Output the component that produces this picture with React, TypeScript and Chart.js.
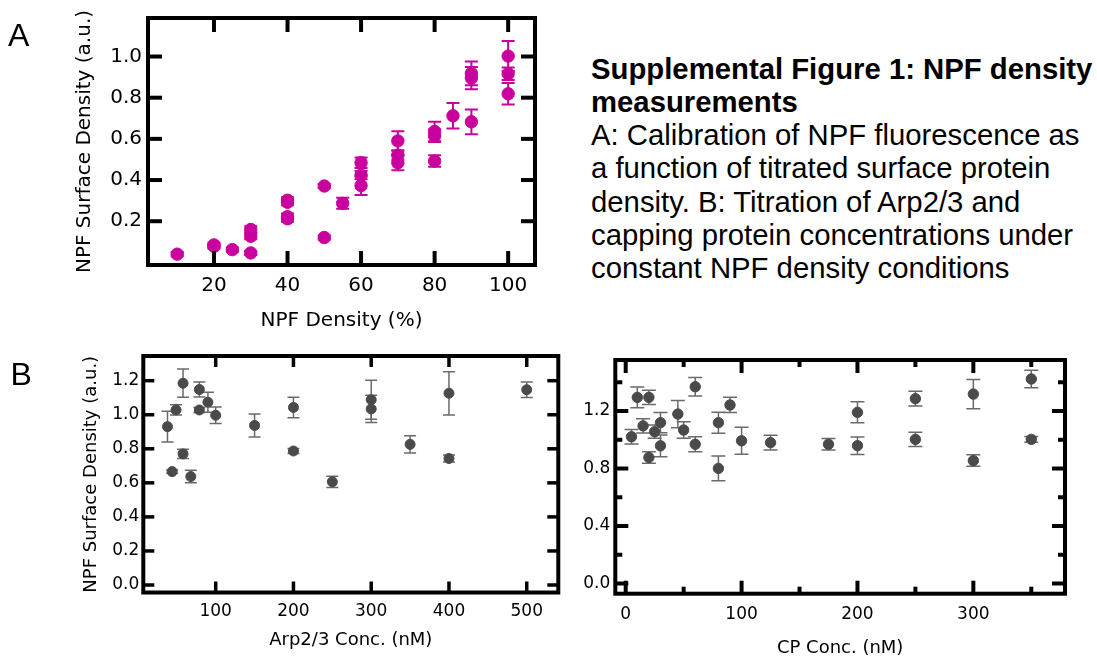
import React, { useEffect, useRef } from "react";
import { Chart, registerables } from "chart.js";

Chart.register(...registerables);

// ---------- Panel A: NPF calibration ----------
const A_X = [10, 20, 20, 25, 30, 30, 30, 40, 40, 40, 40, 50, 50, 55, 60, 60, 60, 70, 70, 70, 80, 80, 80, 85, 90, 90, 90, 100, 100, 100];
const A_Y = [0.040, 0.078, 0.085, 0.062, 0.160, 0.127, 0.046, 0.302, 0.292, 0.222, 0.212, 0.371, 0.121, 0.287, 0.484, 0.424, 0.373, 0.590, 0.521, 0.484, 0.636, 0.615, 0.492, 0.712, 0.918, 0.895, 0.683, 1.002, 0.916, 0.819];
const A_ERR = [0.01, 0.01, 0.01, 0.01, 0.015, 0.015, 0.01, 0.015, 0.015, 0.015, 0.015, 0.01, 0.01, 0.027, 0.026, 0.02, 0.046, 0.047, 0.022, 0.037, 0.047, 0.03, 0.028, 0.062, 0.058, 0.054, 0.06, 0.073, 0.03, 0.052];
const A_X_TICKS = [20, 40, 60, 80, 100];
const A_Y_TICKS = [0.2, 0.4, 0.6, 0.8, 1.0];

// ---------- Panel B left: Arp2/3 titration ----------
const ARP_X = [38, 44, 49, 58, 58, 68, 79, 79, 90, 100, 150, 200, 200, 250, 300, 300, 350, 400, 400, 500];
const ARP_Y = [0.930, 0.666, 1.028, 1.185, 0.770, 0.637, 1.148, 1.028, 1.073, 0.997, 0.937, 1.043, 0.787, 0.606, 1.088, 1.034, 0.826, 1.126, 0.743, 1.147];
const ARP_ERR = [0.09, 0.01, 0.03, 0.083, 0.027, 0.037, 0.044, 0.015, 0.059, 0.049, 0.068, 0.06, 0.015, 0.033, 0.114, 0.08, 0.051, 0.127, 0.02, 0.046];
const ARP_X_TICKS = [100, 200, 300, 400, 500];
const ARP_Y_TICKS = [0, 0.2, 0.4, 0.6, 0.8, 1.0, 1.2];

// ---------- Panel B right: capping protein titration ----------
const CP_X = [5, 10, 15, 20, 20, 25, 30, 30, 45, 50, 60, 60, 80, 80, 90, 100, 125, 175, 200, 200, 250, 250, 300, 300, 350, 350];
const CP_Y = [1.021, 1.295, 1.097, 1.295, 0.877, 1.056, 1.119, 0.958, 1.179, 1.068, 1.369, 0.969, 1.119, 0.801, 1.242, 0.993, 0.980, 0.969, 1.191, 0.959, 1.286, 1.003, 1.318, 0.855, 1.423, 1.003];
const CP_ERR = [0.05, 0.073, 0.05, 0.05, 0.04, 0.046, 0.07, 0.076, 0.095, 0.058, 0.064, 0.052, 0.073, 0.086, 0.053, 0.094, 0.052, 0.04, 0.073, 0.061, 0.051, 0.05, 0.102, 0.04, 0.061, 0.02];
const CP_X_TICKS = [0, 100, 200, 300];
const CP_X_MINOR = [50, 150, 250, 350];
const CP_Y_TICKS = [0, 0.4, 0.8, 1.2];
const CP_Y_MINOR = [0.2, 0.6, 1.0, 1.4];

const AXIS_FONT = "'DejaVu Sans', Verdana, sans-serif";
const TEXT_FONT = "'Liberation Sans', Arial, Helvetica, sans-serif";

const framePlugin = {
  id: "frame",
  beforeDatasetsDraw(chart: any, _args: any, opts: any) {
    const { ctx } = chart;
    const xs = chart.scales.x;
    const ys = chart.scales.y;
    const ds = chart.data.datasets[0];
    ctx.save();
    ctx.strokeStyle = opts.errColor;
    ctx.lineWidth = opts.errWidth;
    ds.data.forEach((p: any, i: number) => {
      const e = opts.errors[i];
      const px = xs.getPixelForValue(p.x);
      const y1 = ys.getPixelForValue(p.y + e);
      const y2 = ys.getPixelForValue(p.y - e);
      const c = opts.cap;
      ctx.beginPath();
      ctx.moveTo(px, y1);
      ctx.lineTo(px, y2);
      ctx.moveTo(px - c, y1);
      ctx.lineTo(px + c, y1);
      ctx.moveTo(px - c, y2);
      ctx.lineTo(px + c, y2);
      ctx.stroke();
    });
    ctx.restore();
  },
  afterDraw(chart: any, _args: any, opts: any) {
    const { ctx, chartArea: a } = chart;
    const xs = chart.scales.x;
    const ys = chart.scales.y;
    ctx.save();
    ctx.strokeStyle = "#000";
    ctx.lineCap = "butt";
    ctx.lineWidth = opts.frameWidth;
    ctx.strokeRect(a.left, a.top, a.right - a.left, a.bottom - a.top);
    ctx.lineWidth = opts.tickWidth;
    const seg = (x1: number, y1: number, x2: number, y2: number) => {
      ctx.beginPath();
      ctx.moveTo(x1, y1);
      ctx.lineTo(x2, y2);
      ctx.stroke();
    };
    const xt = (vals: number[], len: number) =>
      vals.forEach((v) => {
        const px = xs.getPixelForValue(v);
        seg(px, a.bottom, px, a.bottom - len);
        seg(px, a.top, px, a.top + len);
      });
    const yt = (vals: number[], len: number) =>
      vals.forEach((v) => {
        const py = ys.getPixelForValue(v);
        seg(a.left, py, a.left + len, py);
        seg(a.right, py, a.right - len, py);
      });
    xt(opts.xMajor, opts.majorLen);
    yt(opts.yMajor, opts.majorLen);
    xt(opts.xMinor || [], opts.minorLen || 0);
    yt(opts.yMinor || [], opts.minorLen || 0);
    ctx.restore();
  },
};

type PanelCfg = {
  left: number; top: number; w: number; h: number;
  xs: number[]; ys: number[]; errs: number[];
  xMin: number; xMax: number; yMin: number; yMax: number;
  xTicks: number[]; yTicks: number[]; xMinor?: number[]; yMinor?: number[];
  xDec: number; yDec: number;
  padding: any; yW: number; xH: number;
  tickSize: number; xTickPad: number; yTickPad: number;
  xTitle: string; yTitle: string; titleSize: number; xTitlePad: number; yTitlePad: number;
  color: string; r: number; errColor: string; errWidth: number; cap: number;
  frameWidth: number; tickWidth: number; majorLen: number; minorLen?: number;
};

function makeConfig(p: PanelCfg): any {
  return {
    type: "scatter",
    data: {
      datasets: [
        {
          data: p.xs.map((x, i) => ({ x, y: p.ys[i] })),
          pointRadius: p.r,
          pointHoverRadius: p.r,
          pointBackgroundColor: p.color,
          pointBorderColor: p.color,
          pointBorderWidth: 1,
          showLine: false,
        },
      ],
    },
    options: {
      responsive: false,
      animation: false,
      events: [],
      layout: { padding: p.padding },
      plugins: {
        legend: { display: false },
        tooltip: { enabled: false },
        frame: {
          errors: p.errs, errColor: p.errColor, errWidth: p.errWidth, cap: p.cap,
          frameWidth: p.frameWidth, tickWidth: p.tickWidth, majorLen: p.majorLen, minorLen: p.minorLen,
          xMajor: p.xTicks, yMajor: p.yTicks, xMinor: p.xMinor, yMinor: p.yMinor,
        },
      },
      scales: {
        x: {
          type: "linear",
          min: p.xMin,
          max: p.xMax,
          afterBuildTicks: (s: any) => { s.ticks = p.xTicks.map((v) => ({ value: v })); },
          afterFit: (s: any) => { s.height = p.xH; },
          grid: { display: false, drawTicks: false, tickLength: 0 },
          border: { display: false },
          ticks: {
            autoSkip: false, maxRotation: 0, color: "#000", padding: p.xTickPad,
            font: { family: AXIS_FONT, size: p.tickSize },
            callback: (v: any) => Number(v).toFixed(p.xDec),
          },
          title: p.xTitle
            ? { display: true, text: p.xTitle, color: "#000", font: { family: AXIS_FONT, size: p.titleSize }, padding: { top: 0, bottom: p.xTitlePad } }
            : { display: false },
        },
        y: {
          type: "linear",
          min: p.yMin,
          max: p.yMax,
          afterBuildTicks: (s: any) => { s.ticks = p.yTicks.map((v) => ({ value: v })); },
          afterFit: (s: any) => { s.width = p.yW; },
          grid: { display: false, drawTicks: false, tickLength: 0 },
          border: { display: false },
          ticks: {
            autoSkip: false, color: "#000", padding: p.yTickPad,
            font: { family: AXIS_FONT, size: p.tickSize },
            callback: (v: any) => Number(v).toFixed(p.yDec),
          },
          title: p.yTitle
            ? { display: true, text: p.yTitle, color: "#000", font: { family: AXIS_FONT, size: p.titleSize }, padding: { top: p.yTitlePad, bottom: 0 } }
            : { display: false },
        },
      },
    },
    plugins: [framePlugin],
  };
}

const PANEL_A: PanelCfg = {
  left: 0, top: 0, w: 560, h: 340,
  xs: A_X, ys: A_Y, errs: A_ERR,
  xMin: 2.06, xMax: 107.3, yMin: -0.0126, yMax: 1.187,
  xTicks: A_X_TICKS, yTicks: A_Y_TICKS, xDec: 0, yDec: 1,
  padding: { left: 0, top: 15, right: 25, bottom: 0 }, yW: 148, xH: 75,
  tickSize: 20, xTickPad: 9, yTickPad: 6,
  xTitle: "NPF Density (%)", yTitle: "NPF Surface Density (a.u.)", titleSize: 20, xTitlePad: 7, yTitlePad: 73,
  color: "#C9009E", r: 6.2, errColor: "#C9009E", errWidth: 2, cap: 6.5,
  frameWidth: 4, tickWidth: 4, majorLen: 14,
};

const PANEL_ARP: PanelCfg = {
  left: 0, top: 330, w: 580, h: 333,
  xs: ARP_X, ys: ARP_Y, errs: ARP_ERR,
  xMin: 6.9, xMax: 540.6, yMin: -0.044, yMax: 1.345,
  xTicks: ARP_X_TICKS, yTicks: ARP_Y_TICKS, xDec: 0, yDec: 1,
  padding: { left: 0, top: 26, right: 21.7, bottom: 0 }, yW: 143.3, xH: 70.5,
  tickSize: 17, xTickPad: 8.5, yTickPad: 4,
  xTitle: "Arp2/3 Conc. (nM)", yTitle: "NPF Surface Density (a.u.)", titleSize: 18, xTitlePad: 12, yTitlePad: 81,
  color: "#4a4a4a", r: 5, errColor: "#6a6a6a", errWidth: 1.5, cap: 6,
  frameWidth: 4, tickWidth: 3.5, majorLen: 11,
};

const PANEL_CP: PanelCfg = {
  left: 580, top: 330, w: 517, h: 333,
  xs: CP_X, ys: CP_Y, errs: CP_ERR,
  xMin: -8.98, xMax: 379.1, yMin: -0.071, yMax: 1.555,
  xTicks: CP_X_TICKS, yTicks: CP_Y_TICKS, xMinor: CP_X_MINOR, yMinor: CP_Y_MINOR, xDec: 0, yDec: 1,
  padding: { left: 0, top: 30, right: 32, bottom: 0 }, yW: 35.3, xH: 69.3,
  tickSize: 17, xTickPad: 11, yTickPad: 5,
  xTitle: "CP Conc. (nM)", yTitle: "", titleSize: 18, xTitlePad: 4, yTitlePad: 0,
  color: "#4a4a4a", r: 5.2, errColor: "#6a6a6a", errWidth: 1.5, cap: 7,
  frameWidth: 4, tickWidth: 4, majorLen: 13, minorLen: 7,
};

function Panel({ cfg }: { cfg: PanelCfg }) {
  const ref = useRef<HTMLCanvasElement>(null);
  useEffect(() => {
    if (!ref.current) return;
    const chart = new Chart(ref.current, makeConfig(cfg));
    return () => chart.destroy();
  }, [cfg]);
  return (
    <canvas
      ref={ref}
      width={cfg.w}
      height={cfg.h}
      style={{ position: "absolute", left: cfg.left, top: cfg.top, width: cfg.w, height: cfg.h }}
    />
  );
}

const CAPTION_BOLD = ["Supplemental Figure 1: NPF density", "measurements"];
const CAPTION_BODY = [
  "A: Calibration of NPF fluorescence as",
  "a function of titrated surface protein",
  "density. B: Titration of Arp2/3 and",
  "capping protein concentrations under",
  "constant NPF density conditions",
];

export default function App() {
  return (
    <div style={{ position: "absolute", left: 0, top: 0, width: 1097, height: 663, background: "#fff", overflow: "hidden" }}>
      <Panel cfg={PANEL_A} />
      <Panel cfg={PANEL_ARP} />
      <Panel cfg={PANEL_CP} />
      <div style={{ position: "absolute", left: 8, top: 19, fontFamily: TEXT_FONT, fontSize: 32, lineHeight: "32px", color: "#000" }}>A</div>
      <div style={{ position: "absolute", left: 10.5, top: 358, fontFamily: TEXT_FONT, fontSize: 32, lineHeight: "32px", color: "#000" }}>B</div>
      <div style={{ position: "absolute", left: 591, top: 51.7, fontFamily: TEXT_FONT, fontSize: 29.3, lineHeight: "33.2px", color: "#000", whiteSpace: "nowrap" }}>
        {CAPTION_BOLD.map((t) => (
          <div key={t} style={{ fontWeight: "bold" }}>{t}</div>
        ))}
        {CAPTION_BODY.map((t) => (
          <div key={t}>{t}</div>
        ))}
      </div>
    </div>
  );
}
